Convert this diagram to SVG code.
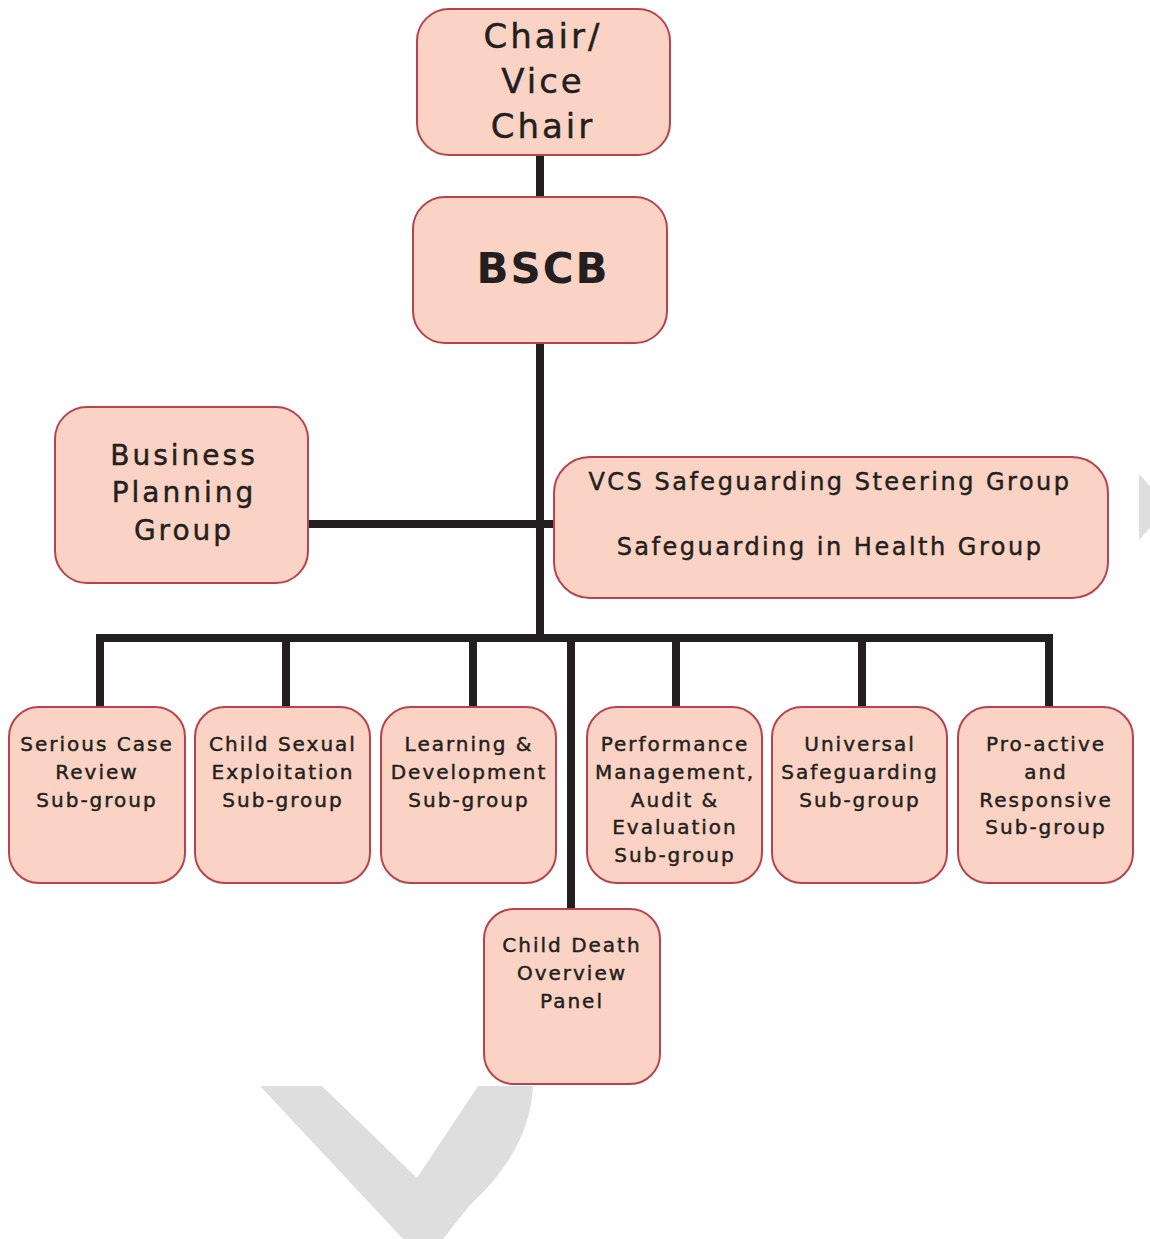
<svg xmlns="http://www.w3.org/2000/svg" width="1150" height="1239" viewBox="0 0 1150 1239">
<style>
.box{fill:#fad3c4;stroke:#b8434f;stroke-width:2}
.t{font-family:"DejaVu Sans",sans-serif;fill:#231f20;stroke:#231f20;stroke-width:0.45;text-anchor:middle;dominant-baseline:central}
.s{font-size:20px;letter-spacing:2px}
.c{stroke:#231f20;stroke-width:8;fill:none}
.wm{fill:#dedede}
</style>
<rect width="1150" height="1239" fill="#ffffff"/>
<g id="watermark">
<path class="wm" d="M260,1086 L322,1086 L417,1178 L478,1086 L533,1086 Q530,1150 470,1205 L443,1239 L403,1239 Z"/>
<path class="wm" d="M1139,474 L1150,486 L1150,528 L1139,540 Z"/>
</g>
<g id="connectors">
<line class="c" x1="540" y1="155" x2="540" y2="198"/>
<line class="c" x1="540" y1="343" x2="540" y2="642"/>
<line class="c" x1="308" y1="524" x2="555" y2="524"/>
<polyline class="c" points="100,708 100,638 1049,638 1049,708"/>
<line class="c" x1="286" y1="638" x2="286" y2="708"/>
<line class="c" x1="473" y1="638" x2="473" y2="708"/>
<line class="c" x1="676" y1="638" x2="676" y2="708"/>
<line class="c" x1="862" y1="638" x2="862" y2="708"/>
<line class="c" x1="571" y1="638" x2="571" y2="910"/>
</g>
<g id="chair">
<rect class="box" x="417" y="9" width="253" height="146" rx="32"/>
<text class="t" style="font-size:34px;letter-spacing:3px" x="543" y="36">Chair/</text>
<text class="t" style="font-size:34px;letter-spacing:3px" x="543" y="81">Vice</text>
<text class="t" style="font-size:34px;letter-spacing:3px" x="543" y="126">Chair</text>
</g>
<g id="bscb">
<rect class="box" x="413" y="197" width="254" height="146" rx="32"/>
<text class="t" style="font-size:42px;font-weight:bold;letter-spacing:2px;stroke-width:0" x="543" y="268">BSCB</text>
</g>
<g id="business">
<rect class="box" x="55" y="407" width="253" height="176" rx="32"/>
<text class="t" style="font-size:28px;letter-spacing:3px" x="184" y="455">Business</text>
<text class="t" style="font-size:28px;letter-spacing:3px" x="184" y="492">Planning</text>
<text class="t" style="font-size:28px;letter-spacing:3px" x="184" y="530">Group</text>
</g>
<g id="vcs">
<rect class="box" x="554" y="457" width="554" height="141" rx="36"/>
<text class="t" style="font-size:24px;letter-spacing:2.5px" x="830" y="482">VCS Safeguarding Steering Group</text>
<text class="t" style="font-size:24px;letter-spacing:2.5px" x="830" y="547">Safeguarding in Health Group</text>
</g>
<g id="serious">
<rect class="box" x="9" y="707" width="176" height="176" rx="30"/>
<text class="t s" x="97" y="744">Serious Case</text>
<text class="t s" x="97" y="772">Review</text>
<text class="t s" x="97" y="800">Sub-group</text>
</g>
<g id="cse">
<rect class="box" x="195" y="707" width="175" height="176" rx="30"/>
<text class="t s" x="283" y="744">Child Sexual</text>
<text class="t s" x="283" y="772">Exploitation</text>
<text class="t s" x="283" y="800">Sub-group</text>
</g>
<g id="learning">
<rect class="box" x="381" y="707" width="175" height="176" rx="30"/>
<text class="t s" x="469" y="744">Learning &amp;</text>
<text class="t s" x="469" y="772">Development</text>
<text class="t s" x="469" y="800">Sub-group</text>
</g>
<g id="performance">
<rect class="box" x="587" y="707" width="175" height="176" rx="30"/>
<text class="t s" x="675" y="744">Performance</text>
<text class="t s" x="675" y="772">Management,</text>
<text class="t s" x="675" y="800">Audit &amp;</text>
<text class="t s" x="675" y="827">Evaluation</text>
<text class="t s" x="675" y="855">Sub-group</text>
</g>
<g id="universal">
<rect class="box" x="772" y="707" width="175" height="176" rx="30"/>
<text class="t s" x="860" y="744">Universal</text>
<text class="t s" x="860" y="772">Safeguarding</text>
<text class="t s" x="860" y="800">Sub-group</text>
</g>
<g id="proactive">
<rect class="box" x="958" y="707" width="175" height="176" rx="30"/>
<text class="t s" x="1046" y="744">Pro-active</text>
<text class="t s" x="1046" y="772">and</text>
<text class="t s" x="1046" y="800">Responsive</text>
<text class="t s" x="1046" y="827">Sub-group</text>
</g>
<g id="childdeath">
<rect class="box" x="484" y="909" width="176" height="175" rx="30"/>
<text class="t s" x="572" y="945">Child Death</text>
<text class="t s" x="572" y="973">Overview</text>
<text class="t s" x="572" y="1001">Panel</text>
</g>
</svg>
